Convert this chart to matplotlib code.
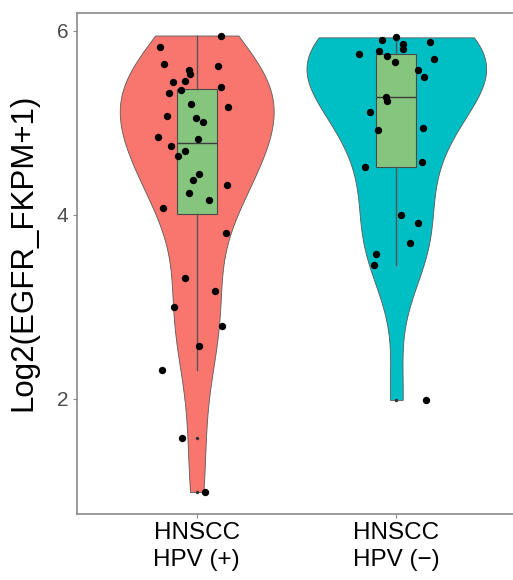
import numpy as np
import matplotlib
matplotlib.use("Agg")
import matplotlib.pyplot as plt

plt.rcParams['font.family'] = ['Liberation Sans', 'DejaVu Sans']

# data: (jitter x position, value) per sample
groups = ["HNSCC\nHPV (+)", "HNSCC\nHPV (\u2212)"]
colors = ["#F8766D", "#00BFC4"]

hpv_pos_x = [0.815, 1.12, 0.837, 0.959, 1.109, 0.965, 0.942, 0.879, 1.124, 0.92,
             0.862, 0.97, 1.157, 0.85, 0.995, 1.034, 0.807, 1.004, 0.87, 0.94,
             0.907, 1.012, 0.979, 1.154, 0.959, 1.064, 0.829, 1.149, 0.942, 1.092,
             0.884, 1.127, 1.01, 0.824, 0.927, 1.044]
hpv_pos_y = [5.83, 5.95, 5.64, 5.58, 5.62, 5.53, 5.46, 5.44, 5.39, 5.36,
             5.32, 5.21, 5.17, 5.08, 5.05, 5.01, 4.85, 4.82, 4.75, 4.70,
             4.64, 4.45, 4.38, 4.32, 4.24, 4.16, 4.08, 3.80, 3.31, 3.17,
             3.00, 2.79, 2.58, 2.31, 1.58, 0.99]

hpv_neg_x = [1.998, 1.929, 2.17, 2.034, 2.034, 1.915, 1.812, 1.954, 2.187, 1.995,
             2.107, 2.14, 1.949, 1.954, 1.867, 2.132, 1.909, 2.127, 1.842, 2.024,
             2.109, 2.07, 1.897, 1.887, 2.147]
hpv_neg_y = [5.93, 5.90, 5.88, 5.86, 5.80, 5.78, 5.75, 5.73, 5.69, 5.66,
             5.57, 5.50, 5.28, 5.24, 5.12, 4.95, 4.92, 4.57, 4.52, 4.00,
             3.91, 3.69, 3.58, 3.46, 1.99]

values = [np.array(hpv_pos_y), np.array(hpv_neg_y)]
jitter_x = [hpv_pos_x, hpv_neg_x]


def kde(v, grid, adjust=1.2):
    # gaussian kde with R's nrd0 bandwidth, like ggplot's geom_violin
    n = len(v)
    sd = np.std(v, ddof=1)
    iqr = np.subtract(*np.percentile(v, [75, 25]))
    bw = adjust * 0.9 * min(sd, iqr / 1.34) * n ** -0.2
    z = (grid[:, None] - v[None, :]) / bw
    return np.exp(-0.5 * z ** 2).sum(axis=1) / (n * bw * np.sqrt(2 * np.pi))


grids = [np.linspace(v.min(), v.max(), 512) for v in values]
dens = [kde(v, g) for v, g in zip(values, grids)]
dmax = max(d.max() for d in dens)

fig = plt.figure(figsize=(5.13, 5.80), dpi=100)
ax = fig.add_axes([0.150, 0.1138, 0.856, 0.864])

for i, (g, d) in enumerate(zip(grids, dens)):
    pos = i + 1
    half = 0.45 * d / dmax
    ax.fill_betweenx(g, pos - half, pos + half, facecolor=colors[i],
                     edgecolor="#5a5a5a", linewidth=0.6, zorder=1)

ax.boxplot(values, positions=[1, 2], widths=0.2, patch_artist=True, whis=1.5,
           showcaps=False, zorder=2,
           boxprops=dict(facecolor="#86C57E", edgecolor="#4a4a4a", linewidth=0.8),
           medianprops=dict(color="#3d3d3d", linewidth=1.0),
           whiskerprops=dict(color="#555555", linewidth=1.0),
           flierprops=dict(marker="o", markersize=2.5, markerfacecolor="#333333",
                           markeredgecolor="none"))

for xs, v in zip(jitter_x, values):
    ax.scatter(xs, v, s=28, color="black", zorder=3, linewidths=0)

ax.set_xlim(0.4, 2.6)
ax.set_ylim(0.75, 6.196)
ax.set_xticks([1, 2])
ax.set_xticklabels(groups, fontsize=17.5, color="black", linespacing=1.3)
ax.set_yticks([2, 4, 6])
ax.set_yticklabels(["2", "4", "6"], fontsize=15, color="#4d4d4d")
ax.tick_params(axis="both", length=3, width=0.8, color="#888888", pad=3)
ax.set_ylabel("Log2(EGFR_FKPM+1)", fontsize=22.5)
ax.yaxis.set_label_coords(-0.087, 0.523)
for s in ax.spines.values():
    s.set_color("#8a8a8a")
    s.set_linewidth(1.2)

fig.savefig("out.png", dpi=100)
